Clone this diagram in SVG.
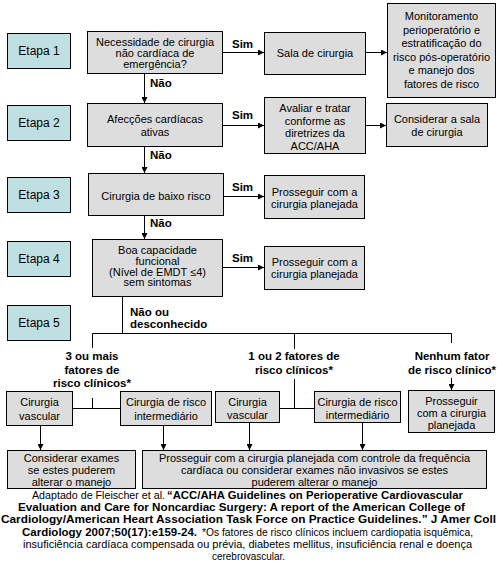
<svg xmlns="http://www.w3.org/2000/svg" width="497" height="582" viewBox="0 0 497 582">
<style>
.bg{fill:#ffffff}
.et rect{fill:#BFE0E0;stroke:#000;stroke-width:1}
.nd rect{fill:#DDDDDD;stroke:#000;stroke-width:1}
text{font-family:"Liberation Sans",Arial,sans-serif;font-size:11px;fill:#000}
.et text{font-size:12px;text-anchor:middle}
.nd text{text-anchor:middle}
.lb{font-weight:bold;font-size:11.5px}
.lbc{font-weight:bold;font-size:11.5px;text-anchor:middle}
.cap{text-anchor:middle}
.b{font-weight:bold}
#connectors path{fill:none;stroke:#000;stroke-width:1}
</style>
<defs>
<marker id="ah" markerWidth="6" markerHeight="6" refX="6" refY="3" orient="auto" markerUnits="userSpaceOnUse"><path d="M0,0 L6,3 L0,6 z" fill="#000"/></marker>
</defs>
<rect class="bg" x="0" y="0" width="497" height="582"/>

<g id="etapa1" class="et"><rect x="7.5" y="33.5" width="63" height="35"/><text x="39" y="55">Etapa 1</text></g>
<g id="etapa2" class="et"><rect x="7.5" y="105.5" width="63" height="35"/><text x="39" y="127">Etapa 2</text></g>
<g id="etapa3" class="et"><rect x="7.5" y="177.5" width="63" height="35"/><text x="39" y="199">Etapa 3</text></g>
<g id="etapa4" class="et"><rect x="7.5" y="241.5" width="63" height="35"/><text x="39" y="263">Etapa 4</text></g>
<g id="etapa5" class="et"><rect x="7.5" y="305.5" width="63" height="35"/><text x="39" y="327">Etapa 5</text></g>

<g id="n1" class="nd"><rect x="87.5" y="31.5" width="135" height="42"/>
<text x="155" y="46">Necessidade de cirurgia</text><text x="155" y="57">não cardíaca de</text><text x="155" y="68">emergência?</text></g>
<g id="sala" class="nd"><rect x="264.5" y="32.5" width="101" height="42"/><text x="315" y="57">Sala de cirurgia</text></g>
<g id="monit" class="nd"><rect x="387.5" y="3.5" width="108" height="94"/>
<text x="441.5" y="20">Monitoramento</text><text x="441.5" y="33.5">perioperatório e</text><text x="441.5" y="47">estratificação do</text><text x="441.5" y="60.5">risco pós-operatório</text><text x="441.5" y="74">e manejo dos</text><text x="441.5" y="87.5">fatores de risco</text></g>

<g id="n2" class="nd"><rect x="87.5" y="103.5" width="135" height="43"/>
<text x="155" y="123">Afecções cardíacas</text><text x="155" y="135.5">ativas</text></g>
<g id="avaliar" class="nd"><rect x="264.5" y="97.5" width="101" height="56"/>
<text x="315" y="112">Avaliar e tratar</text><text x="315" y="124.5">conforme as</text><text x="315" y="137">diretrizes da</text><text x="315" y="149.5">ACC/AHA</text></g>
<g id="considsala" class="nd"><rect x="386.5" y="103.5" width="101" height="43"/>
<text x="437" y="122.5">Considerar a sala</text><text x="437" y="135.5">de cirurgia</text></g>

<g id="n3" class="nd"><rect x="88.5" y="173.5" width="135" height="42"/><text x="156" y="200">Cirurgia de baixo risco</text></g>
<g id="pros1" class="nd"><rect x="264.5" y="175.5" width="100" height="43"/>
<text x="314.5" y="195.5">Prosseguir com a</text><text x="314.5" y="208">cirurgia planejada</text></g>

<g id="n4" class="nd"><rect x="92.5" y="239.5" width="130" height="57"/>
<text x="157.5" y="254">Boa capacidade</text><text x="157.5" y="265">funcional</text><text x="157.5" y="275.5">(Nível de EMDT ≤4)</text><text x="157.5" y="286">sem sintomas</text></g>
<g id="pros2" class="nd"><rect x="264.5" y="246.5" width="100" height="43"/>
<text x="314.5" y="265.5">Prosseguir com a</text><text x="314.5" y="278">cirurgia planejada</text></g>

<g id="vasc1" class="nd"><rect x="6.5" y="391.5" width="66" height="34"/>
<text x="39.5" y="405.5">Cirurgia</text><text x="39.5" y="420">vascular</text></g>
<g id="inter1" class="nd"><rect x="120.5" y="391.5" width="91" height="34"/>
<text x="166" y="405.5">Cirurgia de risco</text><text x="166" y="420">intermediário</text></g>
<g id="vasc2" class="nd"><rect x="215.5" y="391.5" width="64" height="31"/>
<text x="247.5" y="405.5">Cirurgia</text><text x="247.5" y="419">vascular</text></g>
<g id="inter2" class="nd"><rect x="314.5" y="391.5" width="86" height="31"/>
<text x="357.5" y="405.5">Cirurgia de risco</text><text x="357.5" y="419">intermediário</text></g>
<g id="pros3" class="nd"><rect x="408.5" y="390.5" width="86" height="42"/>
<text x="451.5" y="405">Prosseguir</text><text x="451.5" y="417">com a cirurgia</text><text x="451.5" y="429">planejada</text></g>

<g id="exames" class="nd"><rect x="7.5" y="450.5" width="128" height="38"/>
<text x="71.5" y="461.5">Considerar exames</text><text x="71.5" y="473.5">se estes puderem</text><text x="71.5" y="485.5">alterar o manejo</text></g>
<g id="pros4" class="nd"><rect x="142.5" y="450.5" width="344" height="38"/>
<text x="314.5" y="461.5">Prosseguir com a cirurgia planejada com controle da frequência</text><text x="314.5" y="473.5">cardíaca ou considerar exames não invasivos se estes</text><text x="314.5" y="485.5">puderem alterar o manejo</text></g>

<g id="connectors">
<path d="M144.5,73 V103" marker-end="url(#ah)"/>
<path d="M222,52.5 H264" marker-end="url(#ah)"/>
<path d="M365,52.5 H387" marker-end="url(#ah)"/>
<path d="M144.5,146 V173" marker-end="url(#ah)"/>
<path d="M223,125.5 H264" marker-end="url(#ah)"/>
<path d="M365,125.5 H386" marker-end="url(#ah)"/>
<path d="M223,196.5 H264" marker-end="url(#ah)"/>
<path d="M144.5,215 V239" marker-end="url(#ah)"/>
<path d="M222,267.5 H264" marker-end="url(#ah)"/>
<path d="M122.5,296 V333.5"/>
<path d="M92.5,348 V333.5 H451.5 V343"/>
<path d="M294.5,333.5 V349"/>
<path d="M92.5,398 V408.5"/>
<path d="M72,408.5 H120"/>
<path d="M294.5,379 V408.5"/>
<path d="M279,408.5 H314"/>
<path d="M451.5,378 V390" marker-end="url(#ah)"/>
<path d="M40.5,425 V450" marker-end="url(#ah)"/>
<path d="M163.5,425 V450" marker-end="url(#ah)"/>
<path d="M249.5,422 V450" marker-end="url(#ah)"/>
<path d="M362.5,422 V450" marker-end="url(#ah)"/>
</g>

<g id="labels">
<text class="lb" x="232" y="48">Sim</text>
<text class="lb" x="232" y="119">Sim</text>
<text class="lb" x="232" y="191">Sim</text>
<text class="lb" x="232" y="262">Sim</text>
<text class="lb" x="150" y="87">Não</text>
<text class="lb" x="150" y="159">Não</text>
<text class="lb" x="150" y="227">Não</text>
<text class="lb" x="130" y="316">Não ou</text>
<text class="lb" x="130" y="328">desconhecido</text>
<text class="lbc" x="92" y="360">3 ou mais</text>
<text class="lbc" x="92" y="373.5">fatores de</text>
<text class="lbc" x="92" y="387">risco clínicos*</text>
<text class="lbc" x="294" y="360">1 ou 2 fatores de</text>
<text class="lbc" x="294" y="374">risco clínicos*</text>
<text class="lbc" x="452" y="360">Nenhum fator</text>
<text class="lbc" x="452" y="374">de risco clínico*</text>
</g>

<g id="caption">
<text x="32" y="499" textLength="133" lengthAdjust="spacingAndGlyphs">Adaptado de Fleischer et al.</text>
<text class="b" x="167" y="499" textLength="296" lengthAdjust="spacingAndGlyphs">“ACC/AHA Guidelines on Perioperative Cardiovascular</text>
<text class="b" x="18" y="511" textLength="447" lengthAdjust="spacingAndGlyphs">Evaluation and Care for Noncardiac Surgery: A report of the American College of</text>
<text class="b" x="1" y="523" textLength="495" lengthAdjust="spacingAndGlyphs">Cardiology/American Heart Association Task Force on Practice Guidelines.” J Amer Coll</text>
<text class="b" x="22" y="536" textLength="175" lengthAdjust="spacingAndGlyphs">Cardiology 2007;50(17):e159-24.</text>
<text x="202" y="536" textLength="271" lengthAdjust="spacingAndGlyphs">*Os fatores de risco clínicos incluem cardiopatia isquêmica,</text>
<text x="23" y="548" textLength="449" lengthAdjust="spacingAndGlyphs">insuficiência cardíaca compensada ou prévia, diabetes mellitus, insuficiência renal e doença</text>
<text x="212" y="560" textLength="73" lengthAdjust="spacingAndGlyphs">cerebrovascular.</text>
</g>
</svg>
